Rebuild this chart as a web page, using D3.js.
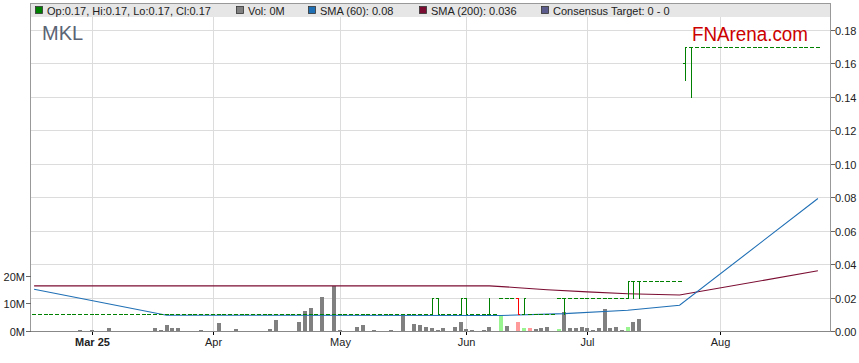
<!DOCTYPE html>
<html>
<head>
<meta charset="utf-8">
<script src="https://cdn.jsdelivr.net/npm/d3@7"></script>
<style>
  body { margin: 0; background: #fff; }
  svg { display: block; font-family: "Liberation Sans", Arial, sans-serif; }
</style>
</head>
<body>
<svg id="chart" width="859" height="363"></svg>
<script>
// first day on the axis, the axis only holds weekdays
const startDay = new Date(2025, 1, 17);

// daily close
const closes = [
  0.01, 0.01, 0.01, 0.01, 0.01, 0.01, 0.01, 0.01, 0.01, 0.01,
  0.01, 0.01, 0.01, 0.01, 0.01, 0.01, 0.01, 0.01, 0.01, 0.01,
  0.01, 0.01, 0.01, 0.01, 0.01, 0.01, 0.01, 0.01, 0.01, 0.01,
  0.01, 0.01, 0.01, 0.01, 0.01, 0.01, 0.01, 0.01, 0.01, 0.01,
  0.01, 0.01, 0.01, 0.01, 0.01, 0.01, 0.01, 0.01, 0.01, 0.01,
  0.01, 0.01, 0.01, 0.01, 0.01, 0.01, 0.01, 0.01, 0.01, 0.01,
  0.01, 0.01, 0.01, 0.01, 0.01, 0.01, 0.01, 0.01, 0.01, 0.02,
  0.01, 0.01, 0.01, 0.01, 0.02, 0.01, 0.01, 0.01, 0.01, 0.01,
  0.01, 0.02, 0.02, 0.02, 0.01, 0.02, 0.01, 0.01, 0.01, 0.01,
  0.01, 0.02, 0.02, 0.02, 0.02, 0.02, 0.02, 0.02, 0.02, 0.02,
  0.02, 0.02, 0.02, 0.03, 0.03, 0.03, 0.03, 0.03, 0.03, 0.03,
  0.03, 0.03, 0.03, 0.17, 0.17, 0.17, 0.17, 0.17, 0.17, 0.17,
  0.17, 0.17, 0.17, 0.17, 0.17, 0.17, 0.17, 0.17, 0.17, 0.17,
  0.17, 0.17, 0.17, 0.17, 0.17, 0.17, 0.17
];

// days where open / high / low differ from the close: [day, open, high, low]
const intraday = [
  [69, 0.01, 0.02, 0.01],
  [70, 0.02, 0.02, 0.01],
  [74, 0.01, 0.02, 0.01],
  [75, 0.02, 0.02, 0.01],
  [79, 0.01, 0.02, 0.01],
  [84, 0.02, 0.02, 0.01],
  [85, 0.01, 0.02, 0.01],
  [92, 0.02, 0.02, 0.01],
  [103, 0.02, 0.03, 0.02],
  [104, 0.03, 0.03, 0.02],
  [105, 0.03, 0.03, 0.02],
  [113, 0.16, 0.17, 0.15],
  [114, 0.17, 0.17, 0.14]
];
// bars drawn red on the chart
const redBarDays = [84];

// daily volume, millions
const volumes = [
  0, 0, 0, 0, 0, 0, 0, 0, 0.7, 0,
  0.4, 0, 0, 1.1, 0, 0, 0, 0, 0, 0,
  0, 1.1, 0.4, 2.2, 1.2, 1.1, 0, 0, 0, 0.4,
  0, 0, 3.0, 0, 0, 0.8, 0, 0, 0, 0,
  0, 0.8, 4.0, 0, 0, 0, 3.4, 7.3, 8.4, 0,
  12.4, 0, 16.5, 0.4, 0, 0, 1.6, 2.3, 0, 0.4,
  0, 0, 0.4, 0, 6.1, 0, 2.7, 2.3, 1.6, 1.2,
  0.6, 1.1, 0, 1.8, 3.4, 0.8, 0.7, 0, 0.7, 1.8,
  0, 6.0, 1.9, 0, 3.4, 1.1, 1.1, 0.8, 1.2, 1.8,
  0, 0.8, 6.9, 1.2, 1.4, 1.8, 1.4, 0.4, 1.2, 8.2,
  1.4, 1.8, 0.4, 1.6, 3.4, 4.7, 0, 0, 0, 0,
  0, 0, 0, 0, 0.3, 0, 0, 0, 0, 0,
  0, 0, 0, 0, 0, 0, 0, 0, 0, 0,
  0, 0, 0, 0, 0, 0, 0
];
const volumeUpDays = [81, 85, 91, 103];
const volumeDownDays = [84, 86];

// moving averages: [day, value]
const sma60 = [
  [0, 0.0253], [23, 0.0097], [81, 0.0096], [92, 0.0107],
  [103, 0.0127], [112, 0.0157], [136, 0.0795]
];
const sma200 = [
  [0, 0.0273], [79, 0.0273], [84, 0.0262], [89, 0.025], [96, 0.0237],
  [103, 0.0226], [112, 0.0218], [136, 0.0363]
];

const priceTicks = [0, 0.02, 0.04, 0.06, 0.08, 0.1, 0.12, 0.14, 0.16, 0.18];
const volumeTicks = [0, 10, 20];

const legendItems = [
  { label: "Op:0.17, Hi:0.17, Lo:0.17, Cl:0.17", color: "#008000" },
  { label: "Vol: 0M", color: "#808080" },
  { label: "SMA (60): 0.08", color: "#1f6fb5" },
  { label: "SMA (200): 0.036", color: "#7b0d33" },
  { label: "Consensus Target: 0 - 0", color: "#5b5b8c" }
];

const ticker = "MKL";
const brand = "FNArena.com";

// ---- layout ----
const plotLeft = 30.5, plotRight = 830.5, plotTop = 3.5, plotBottom = 331.5;
const svg = d3.select("#chart");

// weekday dates for every bar
const days = [];
for (let d = new Date(startDay); days.length < closes.length; d.setDate(d.getDate() + 1)) {
  if (d.getDay() % 6 !== 0) days.push(new Date(d));
}
const monthStarts = days
  .map((d, i) => i)
  .filter((i) => i > 0 && days[i].getMonth() !== days[i - 1].getMonth());

const x = d3.scaleLinear().domain([0, closes.length - 1]).range([34.1, 817.9]);
const y = d3.scaleLinear().domain([0, 0.18]).range([331.5, 30.5]);
const yVol = d3.scaleLinear().domain([0, 20]).range([331.5, 276.3]);

const px = (i) => Math.round(x(i));
const py = (v) => Math.floor(y(v)) + 0.5;

// grid
const grid = svg.append("g").attr("stroke", "#dcdcdc").attr("shape-rendering", "crispEdges");
priceTicks.slice(1).forEach((t) => {
  grid.append("line").attr("x1", plotLeft).attr("x2", plotRight).attr("y1", py(t)).attr("y2", py(t));
});
monthStarts.forEach((i) => {
  grid.append("line").attr("x1", px(i) + 0.5).attr("x2", px(i) + 0.5).attr("y1", plotTop).attr("y2", plotBottom);
});

// legend band
svg.append("rect")
  .attr("x", plotLeft).attr("y", plotTop).attr("width", plotRight - plotLeft).attr("height", 13.5)
  .attr("fill", "#e6e6e6");

const legendX = [35, 236, 308, 419, 541];
const legend = svg.selectAll(".legend")
  .data(legendItems)
  .enter()
  .append("g")
  .attr("class", "legend")
  .attr("transform", (d, i) => `translate(${legendX[i]},0)`);
legend.append("rect")
  .attr("x", 0.5).attr("y", 6.5).attr("width", 7).attr("height", 7)
  .attr("fill", (d) => d.color).attr("stroke", "#333").attr("stroke-width", 0.8);
legend.append("text")
  .attr("x", 12).attr("y", 14.5)
  .attr("font-size", 11).attr("fill", "#222")
  .text((d) => d.label);

// ticker and brand
svg.append("text").attr("x", 42).attr("y", 39.5)
  .attr("font-size", 20).attr("fill", "#5a6475").text(ticker);
svg.append("text").attr("x", 692).attr("y", 40.5)
  .attr("font-size", 20).attr("fill", "#cc0000")
  .attr("textLength", 116).attr("lengthAdjust", "spacingAndGlyphs")
  .text(brand);

// volume bars
svg.append("g")
  .attr("shape-rendering", "crispEdges")
  .selectAll("rect")
  .data(volumes.map((v, i) => ({ v, i })).filter((d) => d.v > 0))
  .enter()
  .append("rect")
  .attr("x", (d) => px(d.i) - 2)
  .attr("width", 4)
  .attr("y", (d) => Math.round(yVol(d.v)))
  .attr("height", (d) => 331 - Math.round(yVol(d.v)))
  .attr("fill", (d) =>
    volumeUpDays.includes(d.i) ? "#99f58f" : volumeDownDays.includes(d.i) ? "#ff9a9a" : "#808080"
  );

// moving averages
const line = d3.line().x((d) => x(d[0])).y((d) => y(d[1]));
svg.append("path").attr("d", line(sma200)).attr("fill", "none")
  .attr("stroke", "#7b0d33").attr("stroke-width", 1.1);
svg.append("path").attr("d", line(sma60)).attr("fill", "none")
  .attr("stroke", "#1f6fb5").attr("stroke-width", 1.1);

// OHLC bars
const bars = closes.map((c, i) => ({ i, open: c, high: c, low: c, close: c }));
intraday.forEach(([i, o, h, l]) => {
  bars[i].open = o;
  bars[i].high = h;
  bars[i].low = l;
});
svg.append("g")
  .attr("shape-rendering", "crispEdges")
  .attr("fill", "none")
  .selectAll("path")
  .data(bars)
  .enter()
  .append("path")
  .attr("stroke", (d) => (redBarDays.includes(d.i) ? "#ff0000" : "#008000"))
  .attr("d", (d) => {
    const xc = px(d.i);
    let p = `M${xc - 2},${py(d.open)}H${xc + 1}`;
    if (d.high > d.low) p += `M${xc + 0.5},${py(d.high) - 0.5}V${py(d.low) + 0.5}`;
    p += `M${xc},${py(d.close)}H${xc + 2}`;
    return p;
  });

// frame
svg.append("path")
  .attr("d", `M${plotLeft},${plotBottom}V${plotTop}H${plotRight}V${plotBottom}`)
  .attr("fill", "none").attr("stroke", "#999").attr("shape-rendering", "crispEdges");
svg.append("line")
  .attr("x1", plotLeft).attr("x2", plotRight).attr("y1", plotBottom).attr("y2", plotBottom)
  .attr("stroke", "#888").attr("shape-rendering", "crispEdges");

// right price axis
const priceAxis = svg.append("g");
priceTicks.forEach((t) => {
  priceAxis.append("line").attr("x1", plotRight).attr("x2", plotRight + 4)
    .attr("y1", py(t)).attr("y2", py(t)).attr("stroke", "#666").attr("shape-rendering", "crispEdges");
  priceAxis.append("text").attr("x", 835).attr("y", py(t) + 4)
    .attr("font-size", 11).attr("fill", "#222").text(d3.format(".2f")(t));
});

// left volume axis
const volAxis = svg.append("g");
volumeTicks.forEach((t) => {
  const yy = Math.floor(yVol(t)) + 0.5;
  volAxis.append("line").attr("x1", 26).attr("x2", plotLeft)
    .attr("y1", yy).attr("y2", yy).attr("stroke", "#666").attr("shape-rendering", "crispEdges");
  volAxis.append("text").attr("x", 25).attr("y", yy + 4)
    .attr("text-anchor", "end").attr("font-size", 11).attr("fill", "#222").text(t + "M");
});

// month labels
const fmtFirst = d3.timeFormat("%b %y"), fmtMonth = d3.timeFormat("%b");
monthStarts.forEach((i, k) => {
  svg.append("line").attr("x1", px(i) + 0.5).attr("x2", px(i) + 0.5)
    .attr("y1", plotBottom).attr("y2", plotBottom + 3).attr("stroke", "#000").attr("shape-rendering", "crispEdges");
  svg.append("text").attr("x", px(i) + 0.5).attr("y", 346)
    .attr("text-anchor", "middle").attr("font-size", 11).attr("fill", "#222")
    .attr("font-weight", k === 0 ? "bold" : "normal")
    .text(k === 0 ? fmtFirst(days[i]) : fmtMonth(days[i]));
});
</script>
</body>
</html>
